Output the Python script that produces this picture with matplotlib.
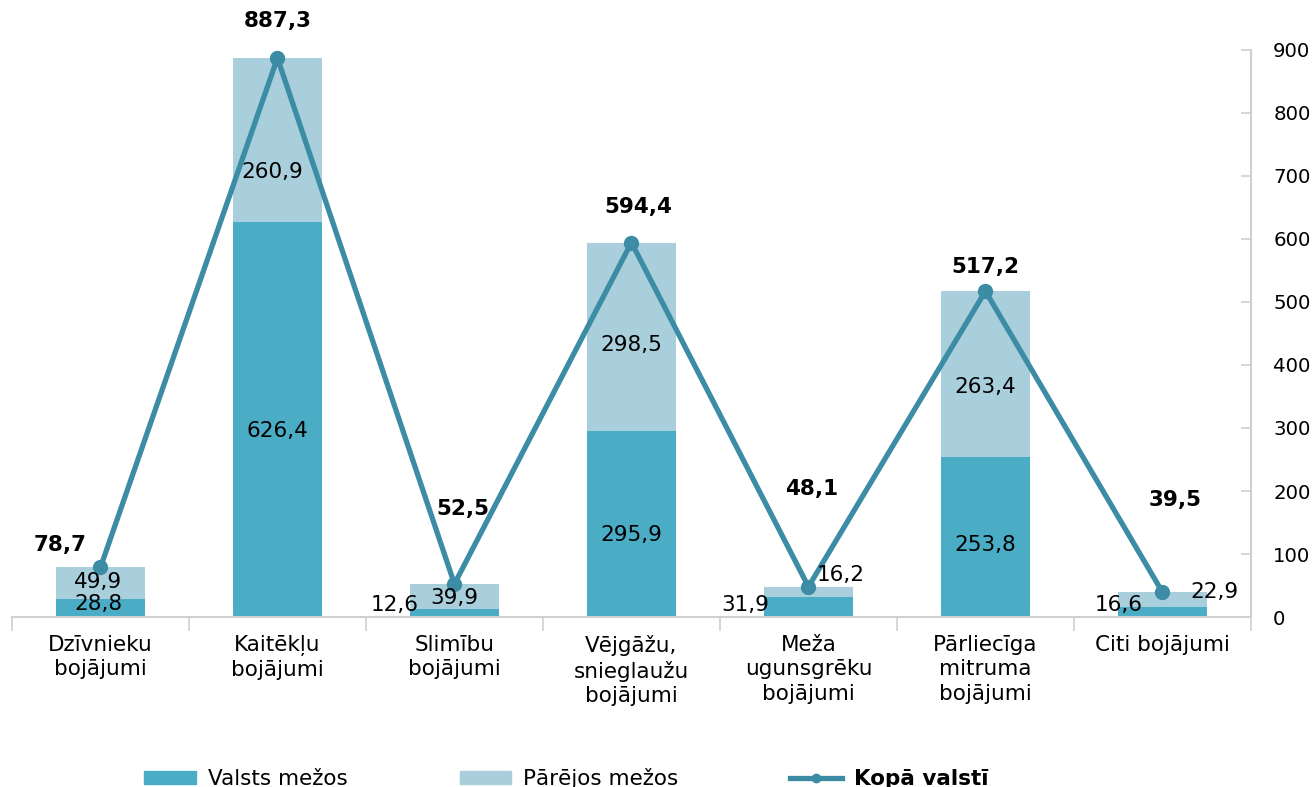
import matplotlib.pyplot as plt
import numpy as np
from matplotlib.lines import Line2D
from matplotlib.patches import Patch

categories = ["Dzīvnieku\nbojājumi", "Kaitēkļu\nbojājumi", "Slimību\nbojājumi",
              "Vējgāžu,\nsnieglaužu\nbojājumi", "Meža\nugunsgrēku\nbojājumi",
              "Pārliecīga\nmitruma\nbojājumi", "Citi bojājumi"]
valsts = [28.8, 626.4, 12.6, 295.9, 31.9, 253.8, 16.6]
parejos = [49.9, 260.9, 39.9, 298.5, 16.2, 263.4, 22.9]
kopa = [78.7, 887.3, 52.5, 594.4, 48.1, 517.2, 39.5]

# label offsets in pixels (Excel-style manual placement)
off_total = [(-40, 22), (0, 37), (8, 75), (7, 36), (3, 98), (0, 24), (13, 92)]
off_valsts = [(-2, 4), (0, -11), (-60, 8), (0, -11), (-63, 2), (0, -8), (-44, 7)]
off_parejos = [(-2, 1), (-5, -32), (0, -1), (0, -8), (32, 17), (0, -13), (52, 7)]

C_DARK = "#4BACC6"
C_LIGHT = "#A9CFDC"
C_LINE = "#3C8CA5"
C_AXIS = "#D0D0D0"
FS = 15.5


def fmt(v):
    return ("%.1f" % v).replace(".", ",")


plt.rcParams['font.family'] = ['DejaVu Sans']
fig = plt.figure(figsize=(13.14, 7.87), dpi=100)
ax = fig.add_axes([0.0091, 0.216, 0.9429, 0.7205])

x = np.arange(len(categories))
ax.bar(x, valsts, width=0.5, color=C_DARK, zorder=2)
ax.bar(x, parejos, width=0.5, bottom=valsts, color=C_LIGHT, zorder=2)
ax.plot(x, kopa, color=C_LINE, lw=3.8, marker="o", ms=10, zorder=3)

for i in range(len(x)):
    ax.annotate(fmt(kopa[i]), (i, kopa[i]), xytext=off_total[i], textcoords="offset pixels",
                ha="center", va="center", fontsize=FS, fontweight="bold", zorder=4)
    ax.annotate(fmt(valsts[i]), (i, valsts[i] / 2), xytext=off_valsts[i], textcoords="offset pixels",
                ha="center", va="center", fontsize=FS, zorder=4)
    ax.annotate(fmt(parejos[i]), (i, valsts[i] + parejos[i] / 2), xytext=off_parejos[i],
                textcoords="offset pixels", ha="center", va="center", fontsize=FS, zorder=4)

ax.set_xlim(-0.5, len(x) - 0.5)
ax.set_ylim(0, 900)

ax.set_xticks(np.arange(len(x) + 1) - 0.5)
ax.set_xticklabels([])
ax.set_xticks(x, minor=True)
ax.set_xticklabels(categories, minor=True, fontsize=FS, linespacing=1.27)
ax.tick_params(axis="x", which="major", length=10, color=C_AXIS, width=1.2)
ax.tick_params(axis="x", which="minor", length=0, pad=13)

ax.yaxis.tick_right()
ax.set_yticks(np.arange(0, 901, 100))
ax.tick_params(axis="y", direction="in", length=7, color=C_AXIS, width=1.2, labelsize=14.2, pad=16)

for s in ["top", "left"]:
    ax.spines[s].set_visible(False)
ax.spines["bottom"].set_color(C_AXIS)
ax.spines["bottom"].set_linewidth(1.5)
ax.spines["right"].set_color(C_AXIS)
ax.spines["right"].set_linewidth(1.5)

handles = [Patch(color=C_DARK), Patch(color=C_LIGHT),
           Line2D([], [], color=C_LINE, lw=3.8, marker="o", ms=6)]
leg = fig.legend(handles, ["Valsts mežos", "Pārējos mežos", "Kopā valstī"], loc="center",
                 bbox_to_anchor=(0.431, 0.011), ncol=3, frameon=False, fontsize=FS,
                 handlelength=2.4, handleheight=0.55, columnspacing=5.2, handletextpad=0.55)
leg.get_texts()[2].set_fontweight("bold")

fig.savefig("out.png", dpi=100)
